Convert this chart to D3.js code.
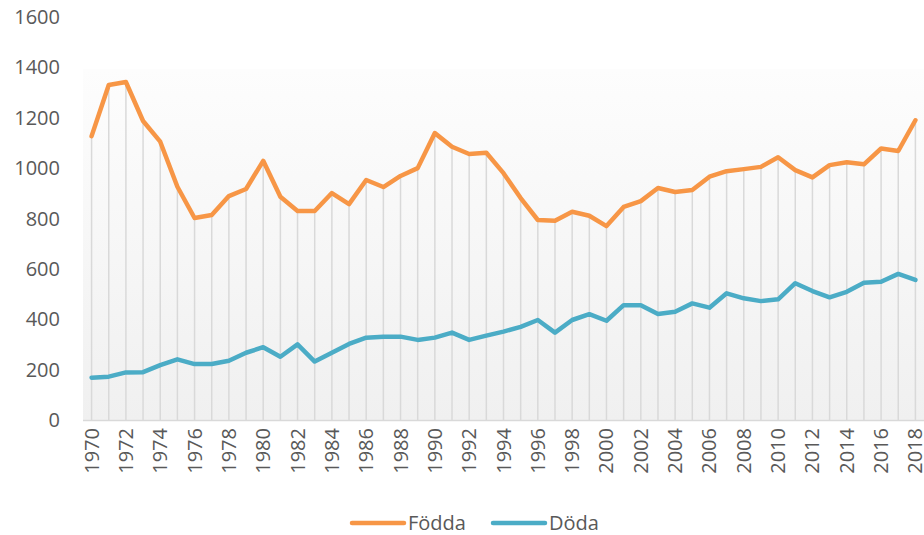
<!DOCTYPE html>
<html>
<head>
<meta charset="utf-8">
<script src="https://cdn.jsdelivr.net/npm/d3@7"></script>
<style>
  body { margin: 0; background: #fff; }
  svg { display: block; font-family: "Open Sans", sans-serif; }
</style>
</head>
<body>
<svg id="chart" width="924" height="535"></svg>
<script>
// data
const years = d3.range(1970, 2019);
const fodda = [1127,1330,1342,1187,1105,926,802,814,889,917,1029,886,830,830,901,857,953,925,969,1000,
  1139,1085,1056,1061,980,881,794,791,827,811,770,846,869,921,905,913,966,988,996,1005,
  1043,992,963,1012,1023,1015,1078,1068,1190];
const doda = [168,172,189,190,218,241,222,222,235,267,289,251,300,232,267,302,327,331,331,318,
  327,347,318,335,351,370,397,347,397,420,394,456,456,421,430,463,446,503,483,472,
  479,543,512,487,509,545,549,580,556];
const yTicks = [0,200,400,600,800,1000,1200,1400,1600];
const xTickYears = years.filter(y => (y - 1970) % 2 === 0);

const svg = d3.select("#chart");
const plotLeft = 83, plotRight = 924, plotTop = 17, plotBottom = 420, panelTop = 69;

const x = d3.scaleBand().domain(years).range([plotLeft, plotRight]);
const y = d3.scaleLinear().domain([0, 1600]).range([plotBottom, plotTop]);
const cx = d => x(d) + x.bandwidth() / 2;

// plot panel gradient
const grad = svg.append("defs").append("linearGradient")
  .attr("id", "bg").attr("x1", 0).attr("y1", 0).attr("x2", 0).attr("y2", 1);
grad.append("stop").attr("offset", "0%").attr("stop-color", "#fdfdfd");
grad.append("stop").attr("offset", "100%").attr("stop-color", "#f0f0f0");
svg.append("rect")
  .attr("x", plotLeft).attr("y", panelTop)
  .attr("width", plotRight - plotLeft).attr("height", plotBottom - panelTop)
  .attr("fill", "url(#bg)");

// drop lines
svg.append("g").selectAll("line").data(years).join("line")
  .attr("x1", d => cx(d)).attr("x2", d => cx(d))
  .attr("y1", (d, i) => y(Math.max(fodda[i], doda[i])))
  .attr("y2", plotBottom)
  .attr("stroke", "#d9d9d9").attr("stroke-width", 1.5);

// x axis line
svg.append("line")
  .attr("x1", plotLeft).attr("x2", plotRight).attr("y1", plotBottom + 0.5).attr("y2", plotBottom + 0.5)
  .attr("stroke", "#d9d9d9").attr("stroke-width", 1.5);

// y labels
svg.append("g").selectAll("text").data(yTicks).join("text")
  .attr("x", 60).attr("y", d => y(d))
  .attr("dy", "0.35em").attr("text-anchor", "end")
  .attr("font-size", 20).attr("fill", "#595959")
  .text(d => d);

// x labels (rotated)
svg.append("g").selectAll("text").data(xTickYears).join("text")
  .attr("transform", d => `translate(${cx(d)},${plotBottom + 8}) rotate(-90)`)
  .attr("dy", "0.35em").attr("text-anchor", "end")
  .attr("font-size", 20).attr("fill", "#595959")
  .text(d => d);

// lines
const line = vals => d3.line().x((d, i) => cx(years[i])).y(d => y(d))(vals);
svg.append("path").attr("d", line(doda))
  .attr("fill", "none").attr("stroke", "#4bacc6").attr("stroke-width", 4.5)
  .attr("stroke-linejoin", "round").attr("stroke-linecap", "round");
svg.append("path").attr("d", line(fodda))
  .attr("fill", "none").attr("stroke", "#f79646").attr("stroke-width", 4.5)
  .attr("stroke-linejoin", "round").attr("stroke-linecap", "round");

// legend
const legend = [
  {name: "Födda", color: "#f79646", x: 352},
  {name: "Döda", color: "#4bacc6", x: 493}
];
const lg = svg.append("g").selectAll("g").data(legend).join("g")
  .attr("transform", d => `translate(${d.x},523)`);
lg.append("line").attr("x1", 0).attr("x2", 52).attr("y1", 0).attr("y2", 0)
  .attr("stroke", d => d.color).attr("stroke-width", 4.5).attr("stroke-linecap", "round");
lg.append("text").attr("x", 56).attr("dy", "0.35em")
  .attr("font-size", 20).attr("fill", "#595959")
  .text(d => d.name);
</script>
</body>
</html>
